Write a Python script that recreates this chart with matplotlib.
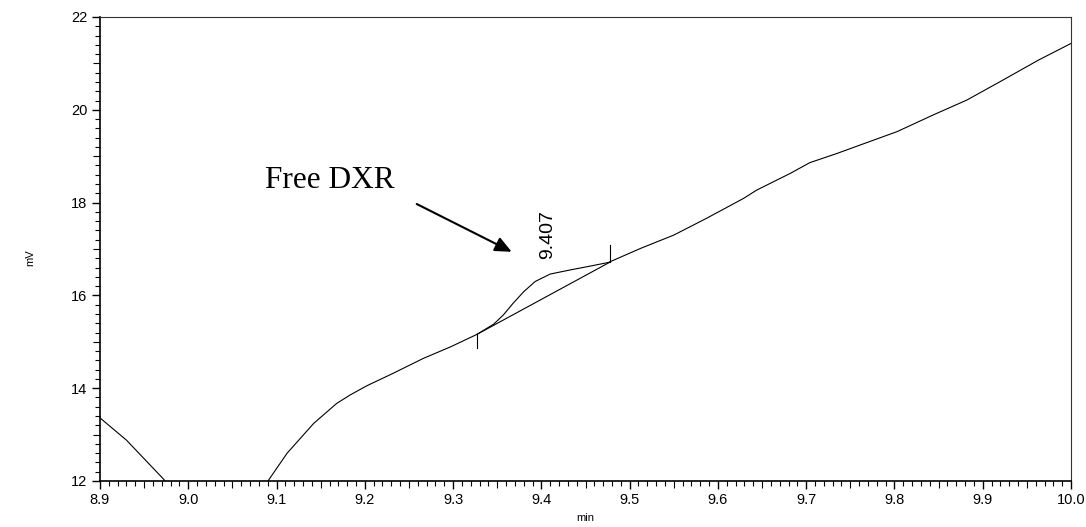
import matplotlib

matplotlib.use("Agg")
import matplotlib.pyplot as plt
from matplotlib.ticker import MultipleLocator

# chromatogram trace (points below 12 mV are off-scale)
time_min = [8.900, 8.930, 8.972, 8.980, 9.085, 9.091, 9.112, 9.142, 9.168, 9.183,
            9.202, 9.232, 9.266, 9.297, 9.327, 9.346, 9.357, 9.368, 9.380, 9.393,
            9.410, 9.433, 9.455, 9.476, 9.500, 9.512, 9.550, 9.587, 9.629, 9.644,
            9.682, 9.704, 9.735, 9.761, 9.803, 9.844, 9.882, 9.920, 9.963, 10.000]
signal_mv = [13.36, 12.88, 12.04, 11.85, 11.85, 12.02, 12.60, 13.24, 13.67, 13.85,
             14.05, 14.32, 14.64, 14.89, 15.16, 15.38, 15.58, 15.83, 16.08, 16.30,
             16.46, 16.55, 16.63, 16.71, 16.91, 17.01, 17.30, 17.66, 18.09, 18.27,
             18.63, 18.86, 19.06, 19.24, 19.53, 19.89, 20.21, 20.61, 21.07, 21.43]

# integration baseline of the peak and its start / end marks
base_t = [9.327, 9.478]
base_mv = [15.16, 16.72]
mark_lo = [15.16, 14.87]
mark_hi = [16.72, 17.09]
peak_rt = 9.407

LABEL_FONT = ["Liberation Sans", "DejaVu Sans"]

fig = plt.figure(figsize=(10.86, 5.27), dpi=100)
ax = fig.add_axes([100 / 1086, 1 - 481 / 527, 971 / 1086, 464 / 527])

ax.plot(time_min, signal_mv, color="black", lw=0.8)
ax.plot(base_t, base_mv, color="black", lw=0.8)
ax.plot([base_t[0]] * 2, mark_lo, color="black", lw=0.8)
ax.plot([base_t[1]] * 2, mark_hi, color="black", lw=0.8)

ax.text(peak_rt, 17.32, f"{peak_rt:.3f}", rotation=90, ha="center", va="center",
        fontsize=14, family=LABEL_FONT)
ax.text(9.087, 18.31, "Free DXR", ha="left", va="baseline", fontsize=22.5,
        family=["Liberation Serif", "DejaVu Serif"])
ax.annotate("", xy=(9.3664, 16.94), xytext=(9.2588, 17.97),
            arrowprops=dict(arrowstyle="-|>,head_length=1.0,head_width=0.45",
                            color="black", lw=1.5, shrinkA=0, shrinkB=0))

ax.set_xlim(8.9, 10.0)
ax.set_ylim(12, 22)
ax.xaxis.set_major_locator(MultipleLocator(0.1))
ax.xaxis.set_minor_locator(MultipleLocator(0.01))
ax.yaxis.set_major_locator(MultipleLocator(2))
ax.yaxis.set_minor_locator(MultipleLocator(0.2))
ax.xaxis.set_major_formatter(lambda v, _: f"{v:.1f}")
ax.yaxis.set_major_formatter(lambda v, _: f"{v:.0f}")

ax.tick_params(which="major", length=6, width=1.0, labelsize=10.5, pad=3)
ax.tick_params(which="minor", length=3.5, width=0.8)
for lab in ax.get_xticklabels() + ax.get_yticklabels():
    lab.set_family(LABEL_FONT)

# medium-length marks at the half-way ticks (0.05 min, 1 mV)
for t, loc in zip(ax.xaxis.get_minor_ticks(), ax.xaxis.get_minorticklocs()):
    if abs(round(loc / 0.05) * 0.05 - loc) < 1e-6:
        t.tick1line.set_markersize(5)
for t, loc in zip(ax.yaxis.get_minor_ticks(), ax.yaxis.get_minorticklocs()):
    if abs(round(loc) - loc) < 1e-6:
        t.tick1line.set_markersize(5)

for side in ("left", "bottom"):
    ax.spines[side].set_linewidth(1.2)
for side in ("top", "right"):
    ax.spines[side].set_linewidth(0.8)
    ax.spines[side].set_color("#333333")

fig.text(30 / 1086, 1 - 258 / 527, "mV", rotation=90, ha="center", va="center",
         fontsize=8, family=LABEL_FONT)
fig.text(585 / 1086, 1 - 518 / 527, "min", ha="center", va="center",
         fontsize=8, family=LABEL_FONT)

fig.savefig("out.png", dpi=100)
